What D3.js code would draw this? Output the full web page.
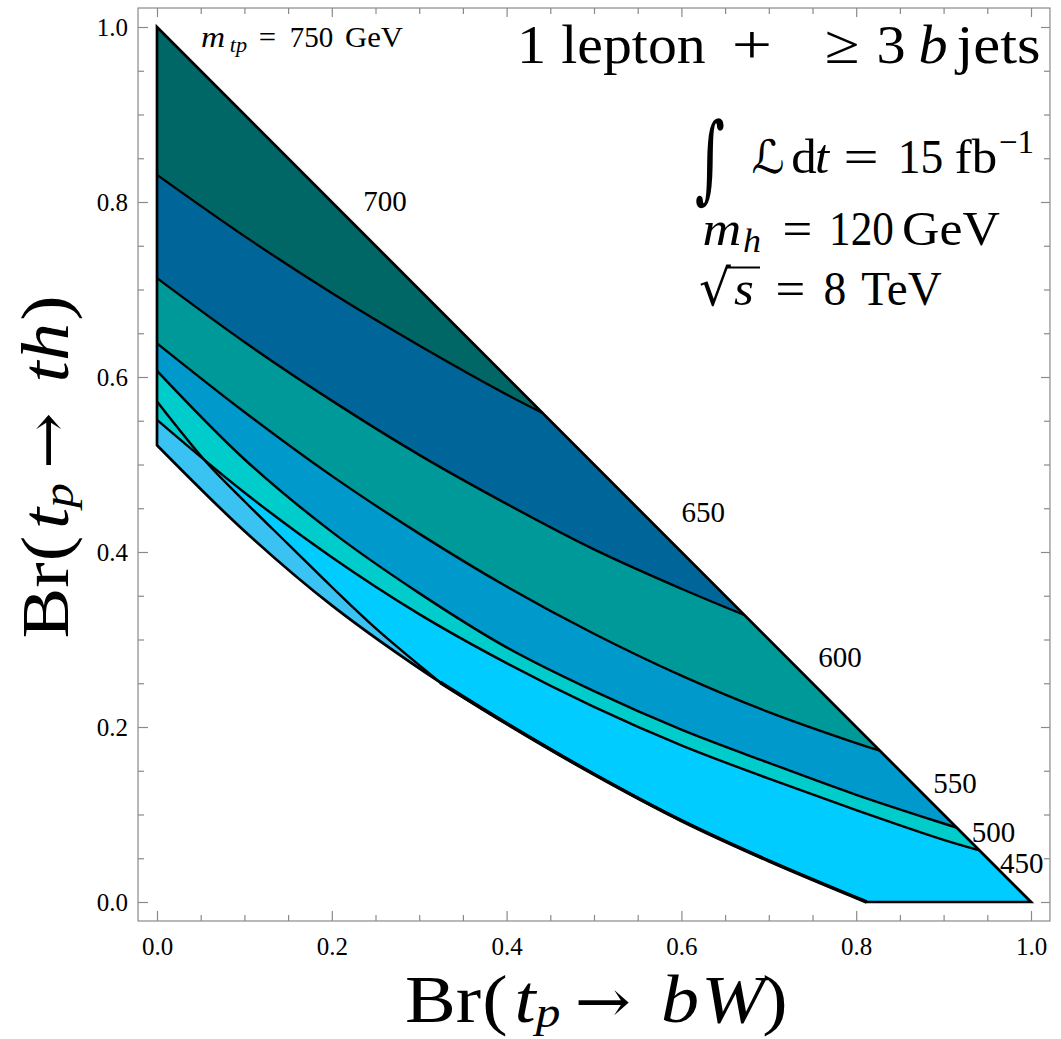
<!DOCTYPE html>
<html><head><meta charset="utf-8">
<script src="https://cdn.jsdelivr.net/npm/d3@7"></script>
<style>body{margin:0;background:#fff} svg{display:block} text{font-family:"Liberation Serif","Times New Roman",serif;fill:#000}</style>
</head><body>
<svg id="chart" width="1061" height="1039"></svg>
<script>
// ---------------- data ----------------
const contourLevels = [700, 650, 600, 550, 500, 450];
const contour700 = [[0,0.831],[0.1,0.761],[0.2,0.696],[0.3,0.636],[0.4,0.580],[0.441,0.559]];
const contour650 = [[0,0.713],[0.1,0.640],[0.2,0.573],[0.3,0.511],[0.4,0.455],[0.5,0.403],[0.6,0.358],[0.672,0.328]];
const contour600 = [[0,0.6385],[0.1,0.560],[0.2,0.487],[0.3,0.421],[0.4,0.3605],[0.5,0.3066],[0.6,0.2587],[0.7,0.217],[0.8,0.1816],[0.827,0.173]];
const contour550 = [[0,0.607],[0.1,0.506],[0.2,0.423],[0.3,0.353],[0.4,0.291],[0.5,0.241],[0.6,0.197],[0.7,0.159],[0.8,0.1225],[0.9,0.0897],[0.915,0.085]];
const contour500 = [[0,0.551],[0.1,0.468],[0.2,0.394],[0.3,0.329],[0.4,0.273],[0.5,0.223],[0.6,0.179],[0.7,0.141],[0.8,0.105],[0.9,0.071],[0.941,0.059]];
const contour450 = [[0,0.572],[0.057,0.502],[0.1,0.458],[0.15,0.409],[0.2,0.360],[0.25,0.313],[0.324,0.251]];
const lowerEdge  = [[0,0.522],[0.1,0.424],[0.2,0.339],[0.324,0.251],[0.4,0.204],[0.5,0.146],[0.6,0.093],[0.7,0.047],[0.812,0]];
const contourLabelPos = [[0.261,0.801],[0.625,0.445],[0.7815,0.2794],[0.913,0.136],[0.957,0.080],[0.9893,0.044]];
const majorTicks = [0,0.2,0.4,0.6,0.8,1.0];
const tickLabels = ["0.0","0.2","0.4","0.6","0.8","1.0"];
const minorTicks = d3.range(0,21).map(i=>i*0.05).filter(v=>Math.abs(v*5-Math.round(v*5))>1e-6);
const bandColors = ['#00ccff','#00cccc','#0099cc','#009999','#006699','#006666'];
const cornerColor = '#3ac2f2';

// ---------------- setup ----------------
const SERIF = '"Liberation Serif","Times New Roman",serif';
const DJ = '"DejaVu Serif",serif';
const svg = d3.select('#chart');
const x = d3.scaleLinear().domain([0,1]).range([157,1031]);
const y = d3.scaleLinear().domain([0,1]).range([902,27]);
const pad = 0.0217;
const fx0 = x(-pad), fx1 = x(1+pad), fy0 = y(-pad), fy1 = y(1+pad);

const lineGen = d3.line().x(d=>x(d[0])).y(d=>y(d[1])).curve(d3.curveCatmullRom.alpha(0.5));
const P = (px,py)=>`${x(px)},${y(py)}`;

// ---------------- fills ----------------
const plot = svg.append('g');
plot.append('path')
  .attr('d', lineGen(lowerEdge) + `L${P(1,0)}L${P(0,1)}Z`)
  .attr('fill', bandColors[0]);
const mergeX = contour450[contour450.length-1][0];
const mergeIdx = lowerEdge.findIndex(p=>Math.abs(p[0]-mergeX)<1e-9);
const lowerPart = lowerEdge.slice(0, mergeIdx+1).reverse();
plot.append('path')
  .attr('d', lineGen(contour450) + lineGen(lowerPart).replace(/^M/,'L') + 'Z')
  .attr('fill', cornerColor);
const upperContours = [contour500, contour550, contour600, contour650, contour700];
upperContours.forEach((c,i)=>{
  plot.append('path')
    .attr('d', lineGen(c) + `L${P(0,1)}Z`)
    .attr('fill', bandColors[i+1]);
});

// ---------------- contour lines ----------------
[contour700, contour650, contour600, contour550, contour500, contour450].forEach(c=>{
  plot.append('path').attr('d', lineGen(c)).attr('fill','none')
    .attr('stroke','#000').attr('stroke-width',2.4).attr('stroke-linejoin','round');
});
plot.append('path').attr('d', lineGen(lowerEdge.slice(mergeIdx))).attr('fill','none')
  .attr('stroke','#000').attr('stroke-width',3.6);
plot.append('path')
  .attr('d', lineGen(lowerEdge) + `L${P(1,0)}L${P(0,1)}Z`)
  .attr('fill','none').attr('stroke','#000').attr('stroke-width',2.7).attr('stroke-linejoin','miter');

plot.selectAll('text.cl').data(contourLabelPos).join('text').attr('class','cl')
  .attr('x', d=>x(d[0])).attr('y', d=>y(d[1])).attr('dy','0.34em')
  .attr('text-anchor','middle').style('font-family',SERIF).style('font-size','29px')
  .text((d,i)=>contourLevels[i]);

// ---------------- frame & axes ----------------
const axG = svg.append('g');
axG.append('rect').attr('x',fx0).attr('y',fy1).attr('width',fx1-fx0).attr('height',fy0-fy1)
  .attr('fill','none').attr('stroke','#8a8a8a').attr('stroke-width',1.2);
function styleAxis(g){
  g.select('.domain').remove();
  g.selectAll('.tick line').attr('stroke','#8a8a8a').attr('stroke-width',1.2);
  g.selectAll('.tick text').style('font-family',SERIF).style('font-size','25px').attr('fill','#000');
}
axG.append('g').attr('transform',`translate(0,${fy0})`)
  .call(d3.axisBottom(x).tickValues(majorTicks).tickSize(-10).tickPadding(16).tickFormat((d,i)=>tickLabels[i])).call(styleAxis);
axG.append('g').attr('transform',`translate(0,${fy0})`)
  .call(d3.axisBottom(x).tickValues(minorTicks).tickSize(-6).tickFormat('')).call(styleAxis);
axG.append('g').attr('transform',`translate(${fx0},0)`)
  .call(d3.axisLeft(y).tickValues(majorTicks).tickSize(-10).tickPadding(10).tickFormat((d,i)=>tickLabels[i])).call(styleAxis);
axG.append('g').attr('transform',`translate(${fx0},0)`)
  .call(d3.axisLeft(y).tickValues(minorTicks).tickSize(-6).tickFormat('')).call(styleAxis);
axG.append('g').attr('transform',`translate(0,${fy1})`)
  .call(d3.axisTop(x).tickValues(majorTicks).tickSize(-9).tickFormat('')).call(styleAxis);
axG.append('g').attr('transform',`translate(0,${fy1})`)
  .call(d3.axisTop(x).tickValues(minorTicks).tickSize(-6).tickFormat('')).call(styleAxis);
axG.append('g').attr('transform',`translate(${fx1},0)`)
  .call(d3.axisRight(y).tickValues(majorTicks).tickSize(-9).tickFormat('')).call(styleAxis);
axG.append('g').attr('transform',`translate(${fx1},0)`)
  .call(d3.axisRight(y).tickValues(minorTicks).tickSize(-6).tickFormat('')).call(styleAxis);

// ---------------- text helpers ----------------
function piece(g, s, cx, by, size, italic, family, sx){
  sx = sx || 1;
  return g.append('text').attr('x',cx).attr('y',by)
    .attr('text-anchor','middle')
    .attr('transform', sx===1 ? null : `translate(${cx},0) scale(${sx},1) translate(${-cx},0)`)
    .style('font-family', family || SERIF)
    .style('font-size', size+'px')
    .style('font-style', italic?'italic':'normal').text(s);
}

// x-axis title
const tx = svg.append('g');
[["Br",443,0,68,false,SERIF],["(",495,0,68,false,SERIF],["t",525,0,68,true,SERIF],["p",548,5,44,true,SERIF],
 ["\u2192",603,0,60,false,DJ],["b",680,0,68,true,SERIF],["W",733,0,68,true,SERIF],[")",775,0,68,false,SERIF]]
 .forEach(p=>piece(tx,p[0],p[1],1022+p[2],p[3],p[4],p[5],1.12));

// y-axis title (rotated)
const ty = svg.append('g').attr('transform','translate(68,466) rotate(-90)');
[["Br",-134.5,0,68,false,SERIF],["(",-82.5,0,68,false,SERIF],["t",-52.5,0,68,true,SERIF],["p",-29.5,5,44,true,SERIF],
 ["\u2192",25.5,0,60,false,DJ],["t",94,0,68,true,SERIF],["h",124,0,68,true,SERIF],[")",158,0,68,false,SERIF]]
 .forEach(p=>piece(ty,p[0],p[1],p[2],p[3],p[4],p[5],1.12));

// m_tp = 750 GeV
const a0 = svg.append('g');
piece(a0,"m",213,46.7,29,true,SERIF,1.15);
piece(a0,"tp",238.5,52.5,21,true,SERIF,1.06);
piece(a0,"=",267.5,46.7,29,false,SERIF,1.06);
piece(a0,"750",311.5,46.7,29,false,SERIF,1.0);
piece(a0,"GeV",374,46.7,29,false,SERIF,1.06);

// 1 lepton + >= 3 b jets
const a1 = svg.append('g');
piece(a1,"1",531.5,63,55,false,SERIF,1.06);
piece(a1,"lepton",633.5,63,55,false,SERIF,1.05);
piece(a1,"+",752,63,55,false,SERIF,1.3);
piece(a1,"\u2265",842,63,55,false,SERIF,1.15);
piece(a1,"3",891,63,55,false,SERIF,1.06);
piece(a1,"b",933,63,55,true,SERIF,1.06);
piece(a1,"jets",998.5,63,55,false,SERIF,1.1);

// integral L dt = 15 fb^-1
const a2 = svg.append('g');
piece(a2,"\u222B",710,191,96,false,DJ,0.6);
piece(a2,"\u2112",768,173,46,true,'"DejaVu Serif","DejaVu Sans",serif',1.0);
piece(a2,"d",804,173,48,false,SERIF,1.06);
piece(a2,"t",822,173,48,true,SERIF,1.06);
piece(a2,"=",861,173,48,false,SERIF,1.3);
piece(a2,"15",920.5,173,48,false,SERIF,0.95);
piece(a2,"fb",976,173,48,false,SERIF,1.06);
piece(a2,"\u22121",1016.5,153,33,false,SERIF,1.0);

// m_h = 120 GeV
const a3 = svg.append('g');
piece(a3,"m",722,245,48,true,SERIF,1.12);
piece(a3,"h",752,252,34,true,SERIF,1.06);
piece(a3,"=",797.5,245,48,false,SERIF,1.1);
piece(a3,"120",861.5,245,48,false,SERIF,0.9);
piece(a3,"GeV",951,245,48,false,SERIF,1.08);

// sqrt(s) = 8 TeV
const a4 = svg.append('g');
piece(a4,"\u221A",715,305,50,false,DJ,1.0);
a4.append('line').attr('x1',726).attr('x2',760).attr('y1',267.5).attr('y2',267.5).attr('stroke','#000').attr('stroke-width',2.2);
piece(a4,"s",744,305,48,true,SERIF,1.06);
piece(a4,"=",790.5,305,48,false,SERIF,1.1);
piece(a4,"8",835,305,48,false,SERIF,0.95);
piece(a4,"TeV",901.5,305,48,false,SERIF,0.98);
</script>
</body></html>
